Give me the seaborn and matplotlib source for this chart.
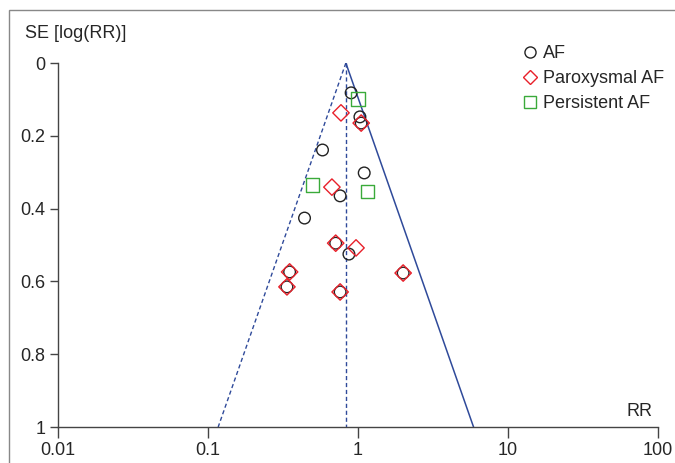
import numpy as np
import pandas as pd
import seaborn as sns
import matplotlib.pyplot as plt
from matplotlib.patches import Rectangle
from matplotlib.lines import Line2D

# study estimates
af_rr = [0.90, 1.03, 1.05, 0.58, 1.10, 0.76, 0.44, 0.71, 0.87, 0.35, 0.336, 0.76, 2.0]
af_se = [0.082, 0.148, 0.165, 0.239, 0.302, 0.365, 0.426, 0.495, 0.525, 0.574, 0.615, 0.629, 0.577]

parox_rr = [0.77, 1.05, 0.67, 0.71, 0.97, 0.35, 0.336, 0.76, 2.0]
parox_se = [0.137, 0.165, 0.341, 0.495, 0.508, 0.574, 0.615, 0.629, 0.577]

pers_rr = [1.0, 0.50, 1.15]
pers_se = [0.099, 0.335, 0.352]

pooled_rr = 0.83
se_range = [0.0, 1.0]

x_ticks = [0.01, 0.1, 1, 10, 100]
x_labels = ["0.01", "0.1", "1", "10", "100"]
y_ticks = [0, 0.2, 0.4, 0.6, 0.8, 1]
y_labels = ["0", "0.2", "0.4", "0.6", "0.8", "1"]

sns.set_style("ticks")
plt.rcParams['font.family'] = ['Liberation Sans', 'DejaVu Sans']

fig = plt.figure(figsize=(6.75, 4.63), dpi=100)
ax = fig.add_axes([58/675, 1 - 427/463, 600/675, 364/463])

# funnel lines (pooled estimate +/- 1.96 SE on the log scale)
se = np.array(se_range)
lower = np.exp(np.log(pooled_rr) - 1.96 * se)
upper = np.exp(np.log(pooled_rr) + 1.96 * se)
line_col = "#2f4a9a"
dash = (0, (3, 2))
sns.lineplot(x=lower, y=se, ax=ax, color=line_col, lw=1, ls=dash, sort=False, estimator=None)
sns.lineplot(x=upper, y=se, ax=ax, color=line_col, lw=1.1, sort=False, estimator=None)
sns.lineplot(x=[pooled_rr, pooled_rr], y=se, ax=ax, color=line_col, lw=1, ls=dash,
             sort=False, estimator=None, errorbar=None)

groups = [
    ("AF", af_rr, af_se, "o", "#222222", 70),
    ("Paroxysmal AF", parox_rr, parox_se, "D", "#e8202a", 70),
    ("Persistent AF", pers_rr, pers_se, "s", "#3aaa3a", 90),
]
handles = []
for name, rr, s, m, c, size in groups:
    df = pd.DataFrame({"RR": rr, "SE": s})
    sns.scatterplot(data=df, x="RR", y="SE", ax=ax, marker=m, s=size,
                    fc="none", ec=c, linewidth=1.0, zorder=3)
    handles.append(Line2D([], [], ls="none", marker=m, mfc="none", mec=c,
                          ms=8 if m != "D" else 7, mew=1.0, label=name))

ax.set_xscale("log")
ax.set_xlim(0.01, 100)
ax.set_ylim(1, 0)
ax.set_xticks(x_ticks)
ax.set_xticklabels(x_labels, fontsize=13)
ax.xaxis.set_minor_locator(plt.NullLocator())
ax.set_yticks(y_ticks)
ax.set_yticklabels(y_labels, fontsize=13)
ax.set_xlabel("")
ax.set_ylabel("")
ax.tick_params(axis="x", length=8, width=1, color="#444444", pad=3)
ax.tick_params(axis="y", length=6, width=1, color="#444444", pad=3)
sns.despine(ax=ax)
for sp in ["left", "bottom"]:
    ax.spines[sp].set_color("#444444")
    ax.spines[sp].set_linewidth(1)

ax.text(0.99, 0.02, "RR", transform=ax.transAxes, ha="right", va="bottom", fontsize=13)
fig.text(25/675, 1 - 33/463, "SE [log(RR)]", ha="left", va="center", fontsize=13)

ax.legend(handles=handles, loc="upper left", bbox_to_anchor=(512/675, 1 - 36/463),
          bbox_transform=fig.transFigure, frameon=False, fontsize=13,
          handletextpad=0.2, handlelength=1.0, labelspacing=0.45, borderpad=0)

fig.add_artist(Rectangle((9/675, -0.05), 1.1, 1 - 10/463 + 0.05, transform=fig.transFigure,
                         fill=False, ec="#888888", lw=1))

fig.savefig("out.png", dpi=100)
